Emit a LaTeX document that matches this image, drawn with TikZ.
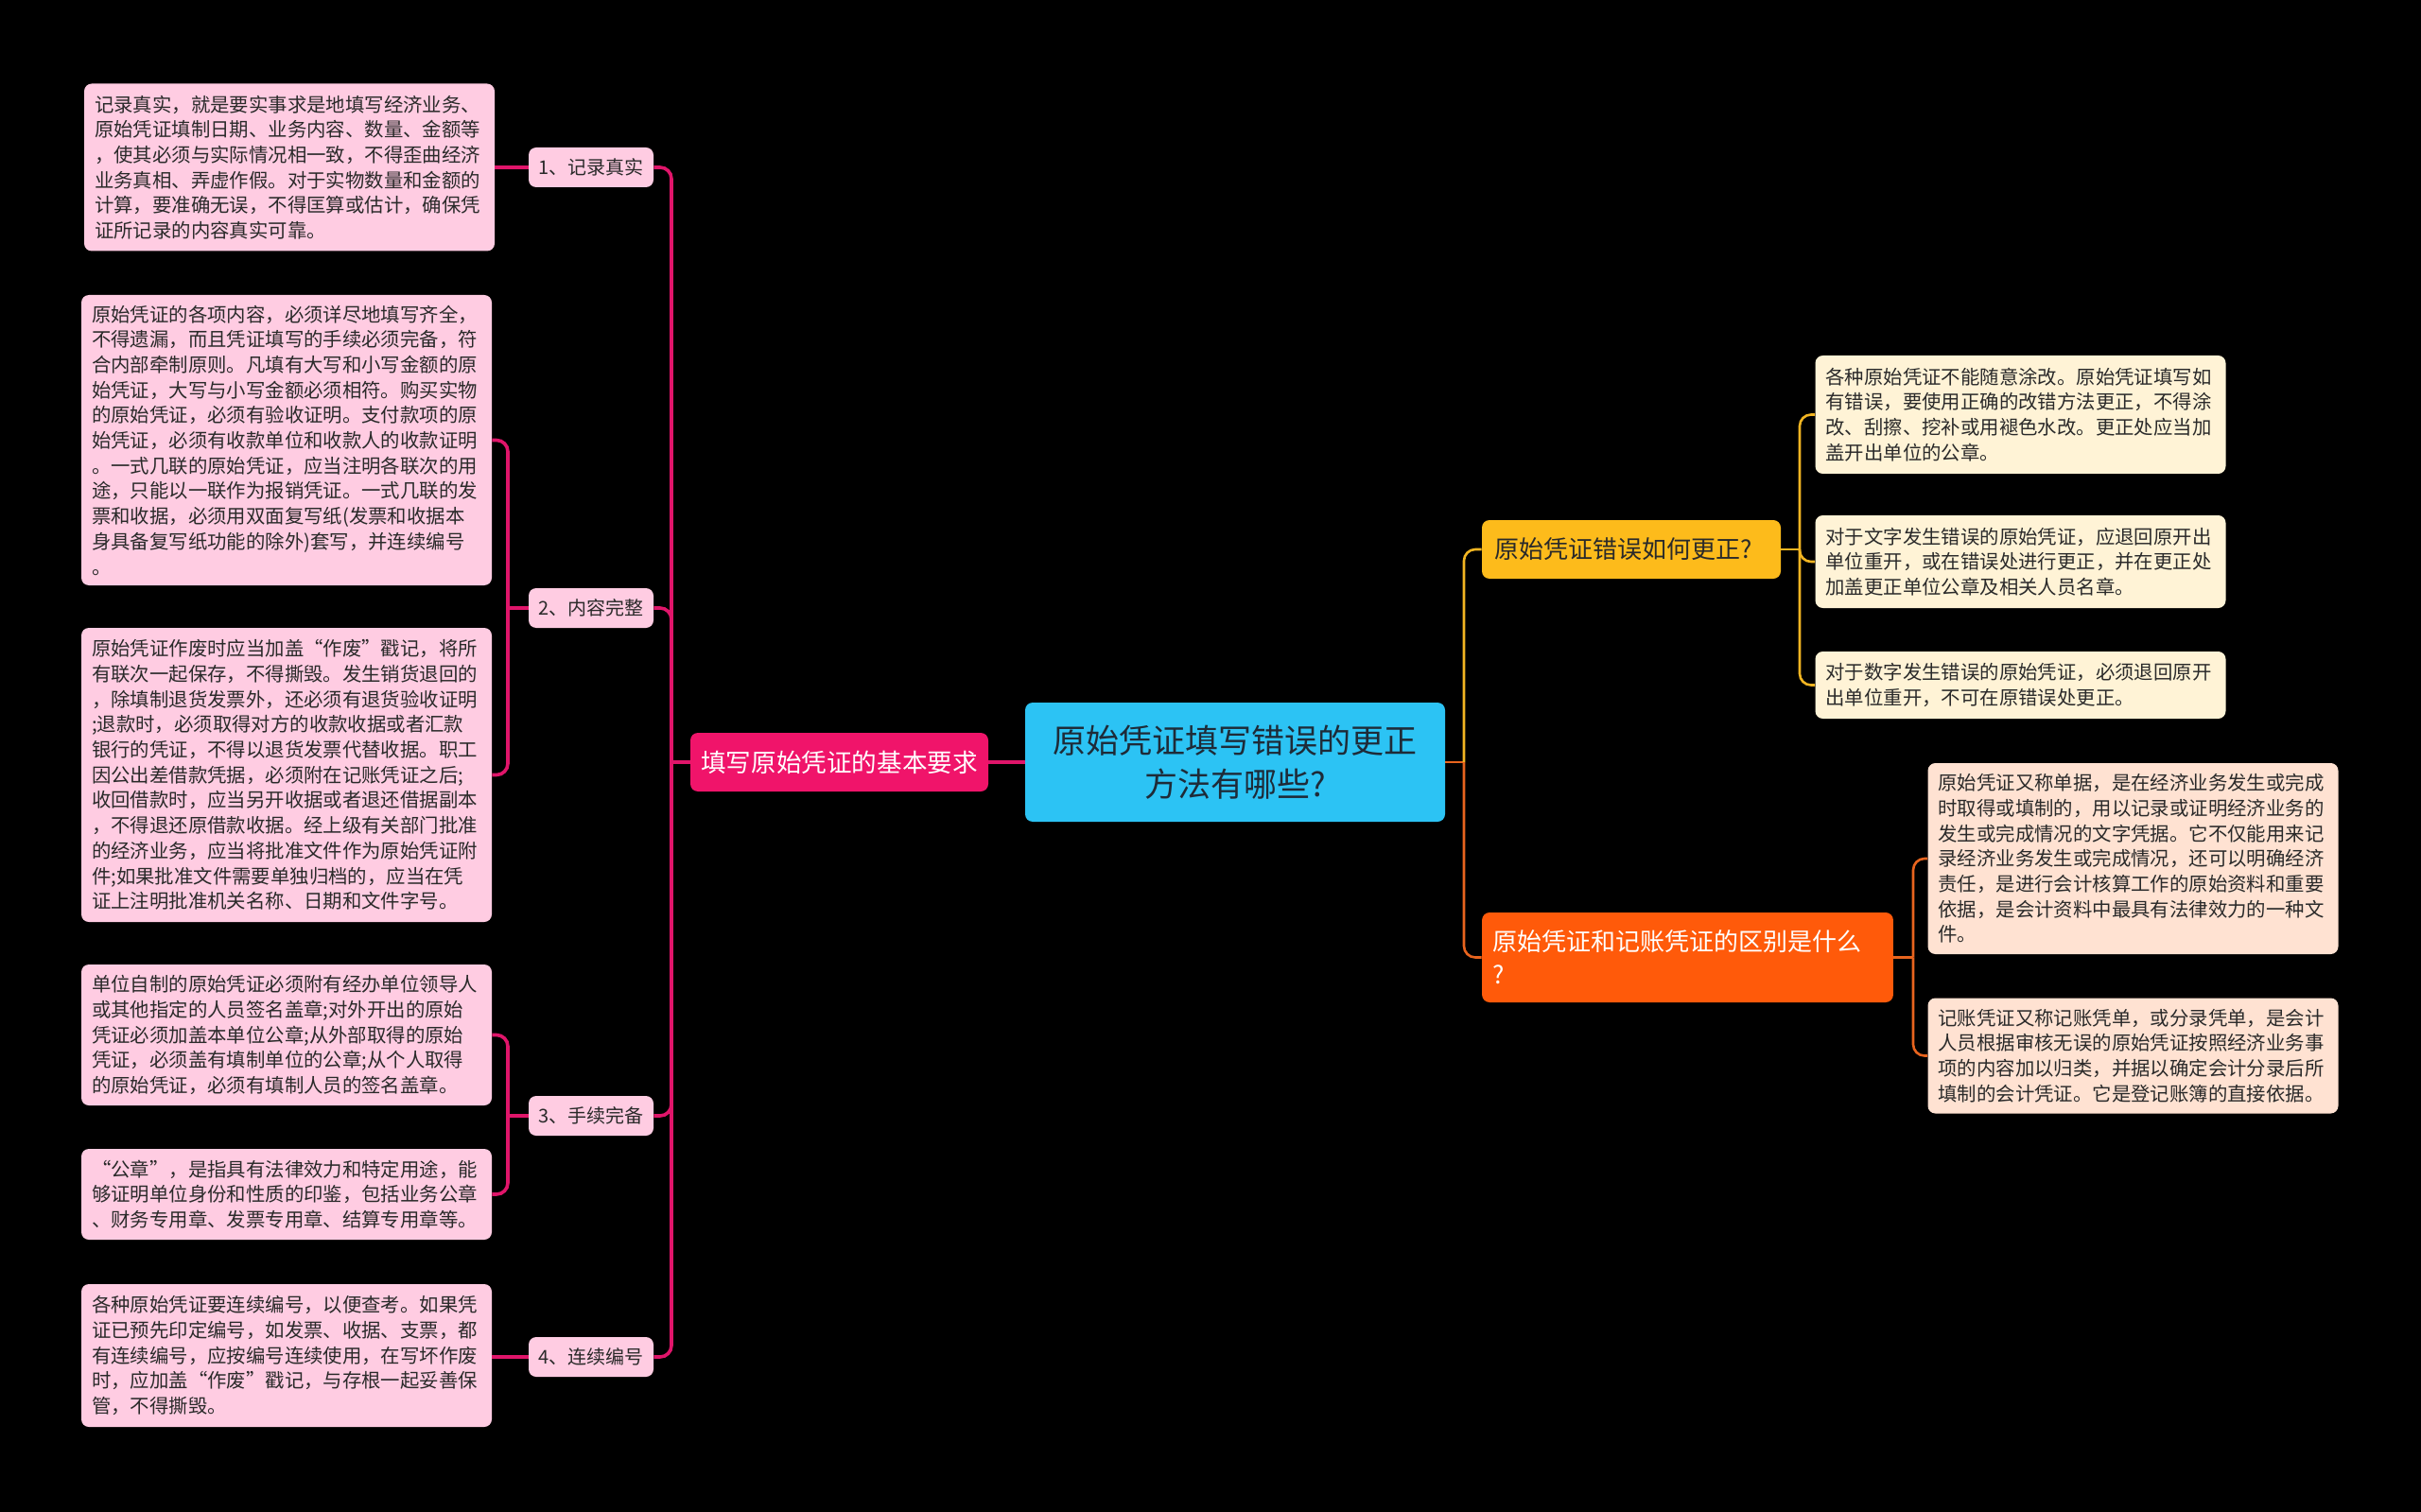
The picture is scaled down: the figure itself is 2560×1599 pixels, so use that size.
\documentclass[tikz,border=0pt]{standalone}
\usepackage{fontspec}
\setmainfont{Noto Sans CJK SC}
\definecolor{cyanbox}{HTML}{2CC3F4}
\definecolor{hotpink}{HTML}{F0146A}
\definecolor{lpink}{HTML}{FFCCE2}
\definecolor{pinkln}{HTML}{E0156A}
\definecolor{amber}{HTML}{FDBB1B}
\definecolor{cream}{HTML}{FFF3D6}
\definecolor{yellowln}{HTML}{F2B522}
\definecolor{orangebox}{HTML}{FF5A0A}
\definecolor{peach}{HTML}{FFE2D2}
\definecolor{orangeln}{HTML}{E8641E}
\definecolor{txtdark}{HTML}{2A2A2A}
\definecolor{ctrtxt}{HTML}{1E2B38}
\begin{document}
\begin{tikzpicture}[x=0.5pt,y=-0.5pt,
  leaf/.style={rounded corners=4pt, text width=206pt, align=left, inner xsep=5.5pt, inner ysep=1pt,
    font=\fontsize{10.2pt}{13.35pt}\selectfont, text=txtdark, anchor=center},
  leafL/.style={leaf, fill=lpink},
  leafY/.style={leaf, fill=cream},
  leafO/.style={leaf, fill=peach},
  subbox/.style={fill=lpink, rounded corners=4pt, minimum width=66pt, minimum height=21pt, inner sep=1pt,
    font=\fontsize{10pt}{12pt}\selectfont, text=txtdark, align=center},
  pl/.style={draw=pinkln, line width=1.8pt, rounded corners=6pt},
  yl/.style={draw=yellowln, line width=1.3pt, rounded corners=6pt},
  ol/.style={draw=orangeln, line width=1.3pt, rounded corners=6pt}
]
\fill[black] (0,0) rectangle (2560,1599);
\useasboundingbox (0,0) rectangle (2560,1599);

% centre and main branches
\node[fill=cyanbox, rounded corners=4pt, minimum width=222pt, minimum height=63pt, align=center,
  font=\fontsize{17.5pt}{23pt}\selectfont, text=ctrtxt] (ctr) at (1306,806)
  {原始凭证填写错误的更正\\方法有哪些?};
\node[fill=hotpink, rounded corners=4pt, minimum width=157.5pt, minimum height=31pt, inner sep=1pt,
  font=\fontsize{13.3pt}{16pt}\selectfont, text=white] (pm) at (887.5,806) {填写原始凭证的基本要求};
\node[fill=amber, rounded corners=4pt, text width=145pt, align=left, inner xsep=6.5pt, minimum height=31pt,
  font=\fontsize{13pt}{17.5pt}\selectfont, text=txtdark] (yq) at (1725,581) {原始凭证错误如何更正?};
\node[fill=orangebox, rounded corners=4pt, text width=206pt, align=left, inner xsep=5.7pt, minimum height=47.5pt,
  font=\fontsize{13pt}{17.5pt}\selectfont, text=white] (oq) at (1784.5,1012.5) {原始凭证和记账凭证的区别是什么\\?};

% left sub branches
\node[subbox] (s1) at (625,177) {1、记录真实};
\node[subbox] (s2) at (625,643) {2、内容完整};
\node[subbox] (s3) at (625,1180) {3、手续完备};
\node[subbox] (s4) at (625,1435) {4、连续编号};

% left leaves
\node[leafL, minimum height=88.5pt] (L1) at (306,177) {记录真实，就是要实事求是地填写经济业务、\\原始凭证填制日期、业务内容、数量、金额等\\，使其必须与实际情况相一致，不得歪曲经济\\业务真相、弄虚作假。对于实物数量和金额的\\计算，要准确无误，不得匡算或估计，确保凭\\证所记录的内容真实可靠。};
\node[leafL, minimum height=153.5pt] (L2) at (303,465.5) {原始凭证的各项内容，必须详尽地填写齐全，\\不得遗漏，而且凭证填写的手续必须完备，符\\合内部牵制原则。凡填有大写和小写金额的原\\始凭证，大写与小写金额必须相符。购买实物\\的原始凭证，必须有验收证明。支付款项的原\\始凭证，必须有收款单位和收款人的收款证明\\。一式几联的原始凭证，应当注明各联次的用\\途，只能以一联作为报销凭证。一式几联的发\\票和收据，必须用双面复写纸(发票和收据本\\身具备复写纸功能的除外)套写，并连续编号\\。};
\node[leafL, minimum height=155.5pt] (L3) at (303,819.5) {原始凭证作废时应当加盖“作废”戳记，将所\\有联次一起保存，不得撕毁。发生销货退回的\\，除填制退货发票外，还必须有退货验收证明\\;退款时，必须取得对方的收款收据或者汇款\\银行的凭证，不得以退货发票代替收据。职工\\因公出差借款凭据，必须附在记账凭证之后;\\收回借款时，应当另开收据或者退还借据副本\\，不得退还原借款收据。经上级有关部门批准\\的经济业务，应当将批准文件作为原始凭证附\\件;如果批准文件需要单独归档的，应当在凭\\证上注明批准机关名称、日期和文件字号。};
\node[leafL, minimum height=74.5pt] (L4) at (303,1094.5) {单位自制的原始凭证必须附有经办单位领导人\\或其他指定的人员签名盖章;对外开出的原始\\凭证必须加盖本单位公章;从外部取得的原始\\凭证，必须盖有填制单位的公章;从个人取得\\的原始凭证，必须有填制人员的签名盖章。};
\node[leafL, minimum height=48pt] (L5) at (303,1263) {“公章”，是指具有法律效力和特定用途，能\\够证明单位身份和性质的印鉴，包括业务公章\\、财务专用章、发票专用章、结算专用章等。};
\node[leafL, minimum height=75.5pt] (L6) at (303,1433.5) {各种原始凭证要连续编号，以便查考。如果凭\\证已预先印定编号，如发票、收据、支票，都\\有连续编号，应按编号连续使用，在写坏作废\\时，应加盖“作废”戳记，与存根一起妥善保\\管，不得撕毁。};

% right leaves
\node[leafY, minimum height=62.5pt] (Y1) at (2136.5,438.5) {各种原始凭证不能随意涂改。原始凭证填写如\\有错误，要使用正确的改错方法更正，不得涂\\改、刮擦、挖补或用褪色水改。更正处应当加\\盖开出单位的公章。};
\node[leafY, minimum height=49pt] (Y2) at (2136.5,594) {对于文字发生错误的原始凭证，应退回原开出\\单位重开，或在错误处进行更正，并在更正处\\加盖更正单位公章及相关人员名章。};
\node[leafY, minimum height=35.5pt] (Y3) at (2136.5,724.5) {对于数字发生错误的原始凭证，必须退回原开\\出单位重开，不可在原错误处更正。};
\node[leafO, minimum height=101pt] (O1) at (2255.5,908) {原始凭证又称单据，是在经济业务发生或完成\\时取得或填制的，用以记录或证明经济业务的\\发生或完成情况的文字凭据。它不仅能用来记\\录经济业务发生或完成情况，还可以明确经济\\责任，是进行会计核算工作的原始资料和重要\\依据，是会计资料中最具有法律效力的一种文\\件。};
\node[leafO, minimum height=61pt] (O2) at (2255.5,1116.5) {记账凭证又称记账凭单，或分录凭单，是会计\\人员根据审核无误的原始凭证按照经济业务事\\项的内容加以归类，并据以确定会计分录后所\\填制的会计凭证。它是登记账簿的直接依据。};

% junctions
\coordinate (jL) at (710,806);
\coordinate (j2) at (537,643);
\coordinate (j3) at (537,1180);
\coordinate (jR) at (1548,806);
\coordinate (jY) at (1903,581);
\coordinate (jO) at (2023,1012.5);

% left connectors
\draw[pl] (ctr.west) -- (pm.east);
\draw[pl] (pm.west) -- (jL);
\draw[pl] (jL) |- (s1.east);
\draw[pl] (jL) |- (s2.east);
\draw[pl] (jL) |- (s3.east);
\draw[pl] (jL) |- (s4.east);
\draw[pl] (s1.west) -- (L1.east |- s1.west);
\draw[pl] (s2.west) -- (j2);
\draw[pl] (j2) |- (L2.east);
\draw[pl] (j2) |- (L3.east);
\draw[pl] (s3.west) -- (j3);
\draw[pl] (j3) |- (L4.east);
\draw[pl] (j3) |- (L5.east);
\draw[pl] (s4.west) -- (L6.east |- s4.west);

% right connectors
\draw[ol] (ctr.east) -- (jR);
\draw[yl] (jR) |- (yq.west);
\draw[ol] (jR) |- (oq.west);
\draw[yl] (yq.east) -- (jY);
\draw[yl] (jY) |- (Y1.west);
\draw[yl] (jY) |- (Y2.west);
\draw[yl] (jY) |- (Y3.west);
\draw[ol] (oq.east) -- (jO);
\draw[ol] (jO) |- (O1.west);
\draw[ol] (jO) |- (O2.west);
\end{tikzpicture}
\end{document}
